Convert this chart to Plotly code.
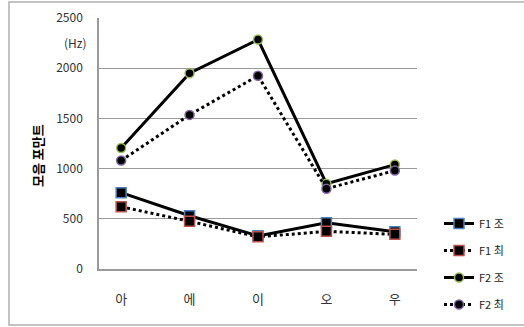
import plotly.graph_objects as go

categories = ["아", "에", "이", "오", "우"]
f1_jo = [760, 530, 330, 460, 370]
f1_choi = [620, 475, 320, 375, 345]
f2_jo = [1205, 1950, 2285, 850, 1040]
f2_choi = [1080, 1535, 1925, 800, 980]
series_names = ["F1 조", "F1 최", "F2 조", "F2 최"]
y_ticks = [0, 500, 1000, 1500, 2000, 2500]

W, H = 524, 327
L, R, T, B = 99, 107, 18, 58
pw, ph = W - L - R, H - T - B

font_family = "Noto Sans CJK KR, Noto Sans, sans-serif"

def trace(y, name, dash, symbol, size, outline, grp):
    return go.Scatter(
        x=categories, y=y, name=name, mode="lines+markers",
        legendgroup=grp,
        line=dict(color="black", width=3, dash=dash),
        marker=dict(symbol=symbol, size=size, color="black",
                    line=dict(color=outline, width=1.5)),
    )

fig = go.Figure()
fig.add_trace(trace(f1_jo, series_names[0], "solid", "square", 10, "#4F81BD", "a"))
fig.add_trace(trace(f1_choi, series_names[1], "dot", "square", 10, "#C0504D", "b"))
fig.add_trace(trace(f2_jo, series_names[2], "solid", "circle", 9, "#9BBB59", "c"))
fig.add_trace(trace(f2_choi, series_names[3], "dot", "circle", 9, "#8064A2", "d"))

fig.update_layout(
    width=W, height=H,
    margin=dict(l=L, r=R, t=T, b=B, pad=0, autoexpand=False),
    paper_bgcolor="white", plot_bgcolor="white",
    font=dict(family=font_family, size=11, color="#222"),
    showlegend=True,
    legend=dict(x=(439 - L) / pw, y=(H - 209 - B) / ph, xanchor="left", yanchor="top",
                font=dict(size=11), tracegroupgap=8, bgcolor="rgba(0,0,0,0)",
                itemwidth=30),
    xaxis=dict(showline=True, linecolor="#9a9a9a", linewidth=1.5, showgrid=False,
               ticks="", ticklabelstandoff=18, tickfont=dict(size=13, color="#333"),
               fixedrange=True, automargin=False),
    yaxis=dict(range=[0, 2500], tickvals=y_ticks, showline=True, linecolor="#9a9a9a",
               linewidth=1.5, showgrid=True, gridcolor="#9a9a9a", gridwidth=1,
               ticks="", ticklabelstandoff=12, zeroline=False, automargin=False,
               tickfont=dict(size=12, color="#333")),
    shapes=[dict(type="rect", xref="paper", yref="paper",
                 x0=(9 - L) / pw, x1=(530 - L) / pw,
                 y0=(H - 325 - B) / ph, y1=(H - 2 - B) / ph,
                 line=dict(color="#b0b0b0", width=1.5), layer="below")],
    annotations=[
        dict(text="(Hz)", xref="paper", yref="paper", x=(89 - L) / pw,
             y=(H - 42 - B) / ph, xanchor="right", yanchor="middle",
             showarrow=False, font=dict(size=12, color="#333")),
        dict(text="<b>모음 포만트</b>", xref="paper", yref="paper",
             x=(37 - L) / pw, y=(H - 155 - B) / ph, xanchor="center", yanchor="middle",
             textangle=-90, showarrow=False, font=dict(size=13, color="black")),
    ],
)

fig.write_html("out.html")
